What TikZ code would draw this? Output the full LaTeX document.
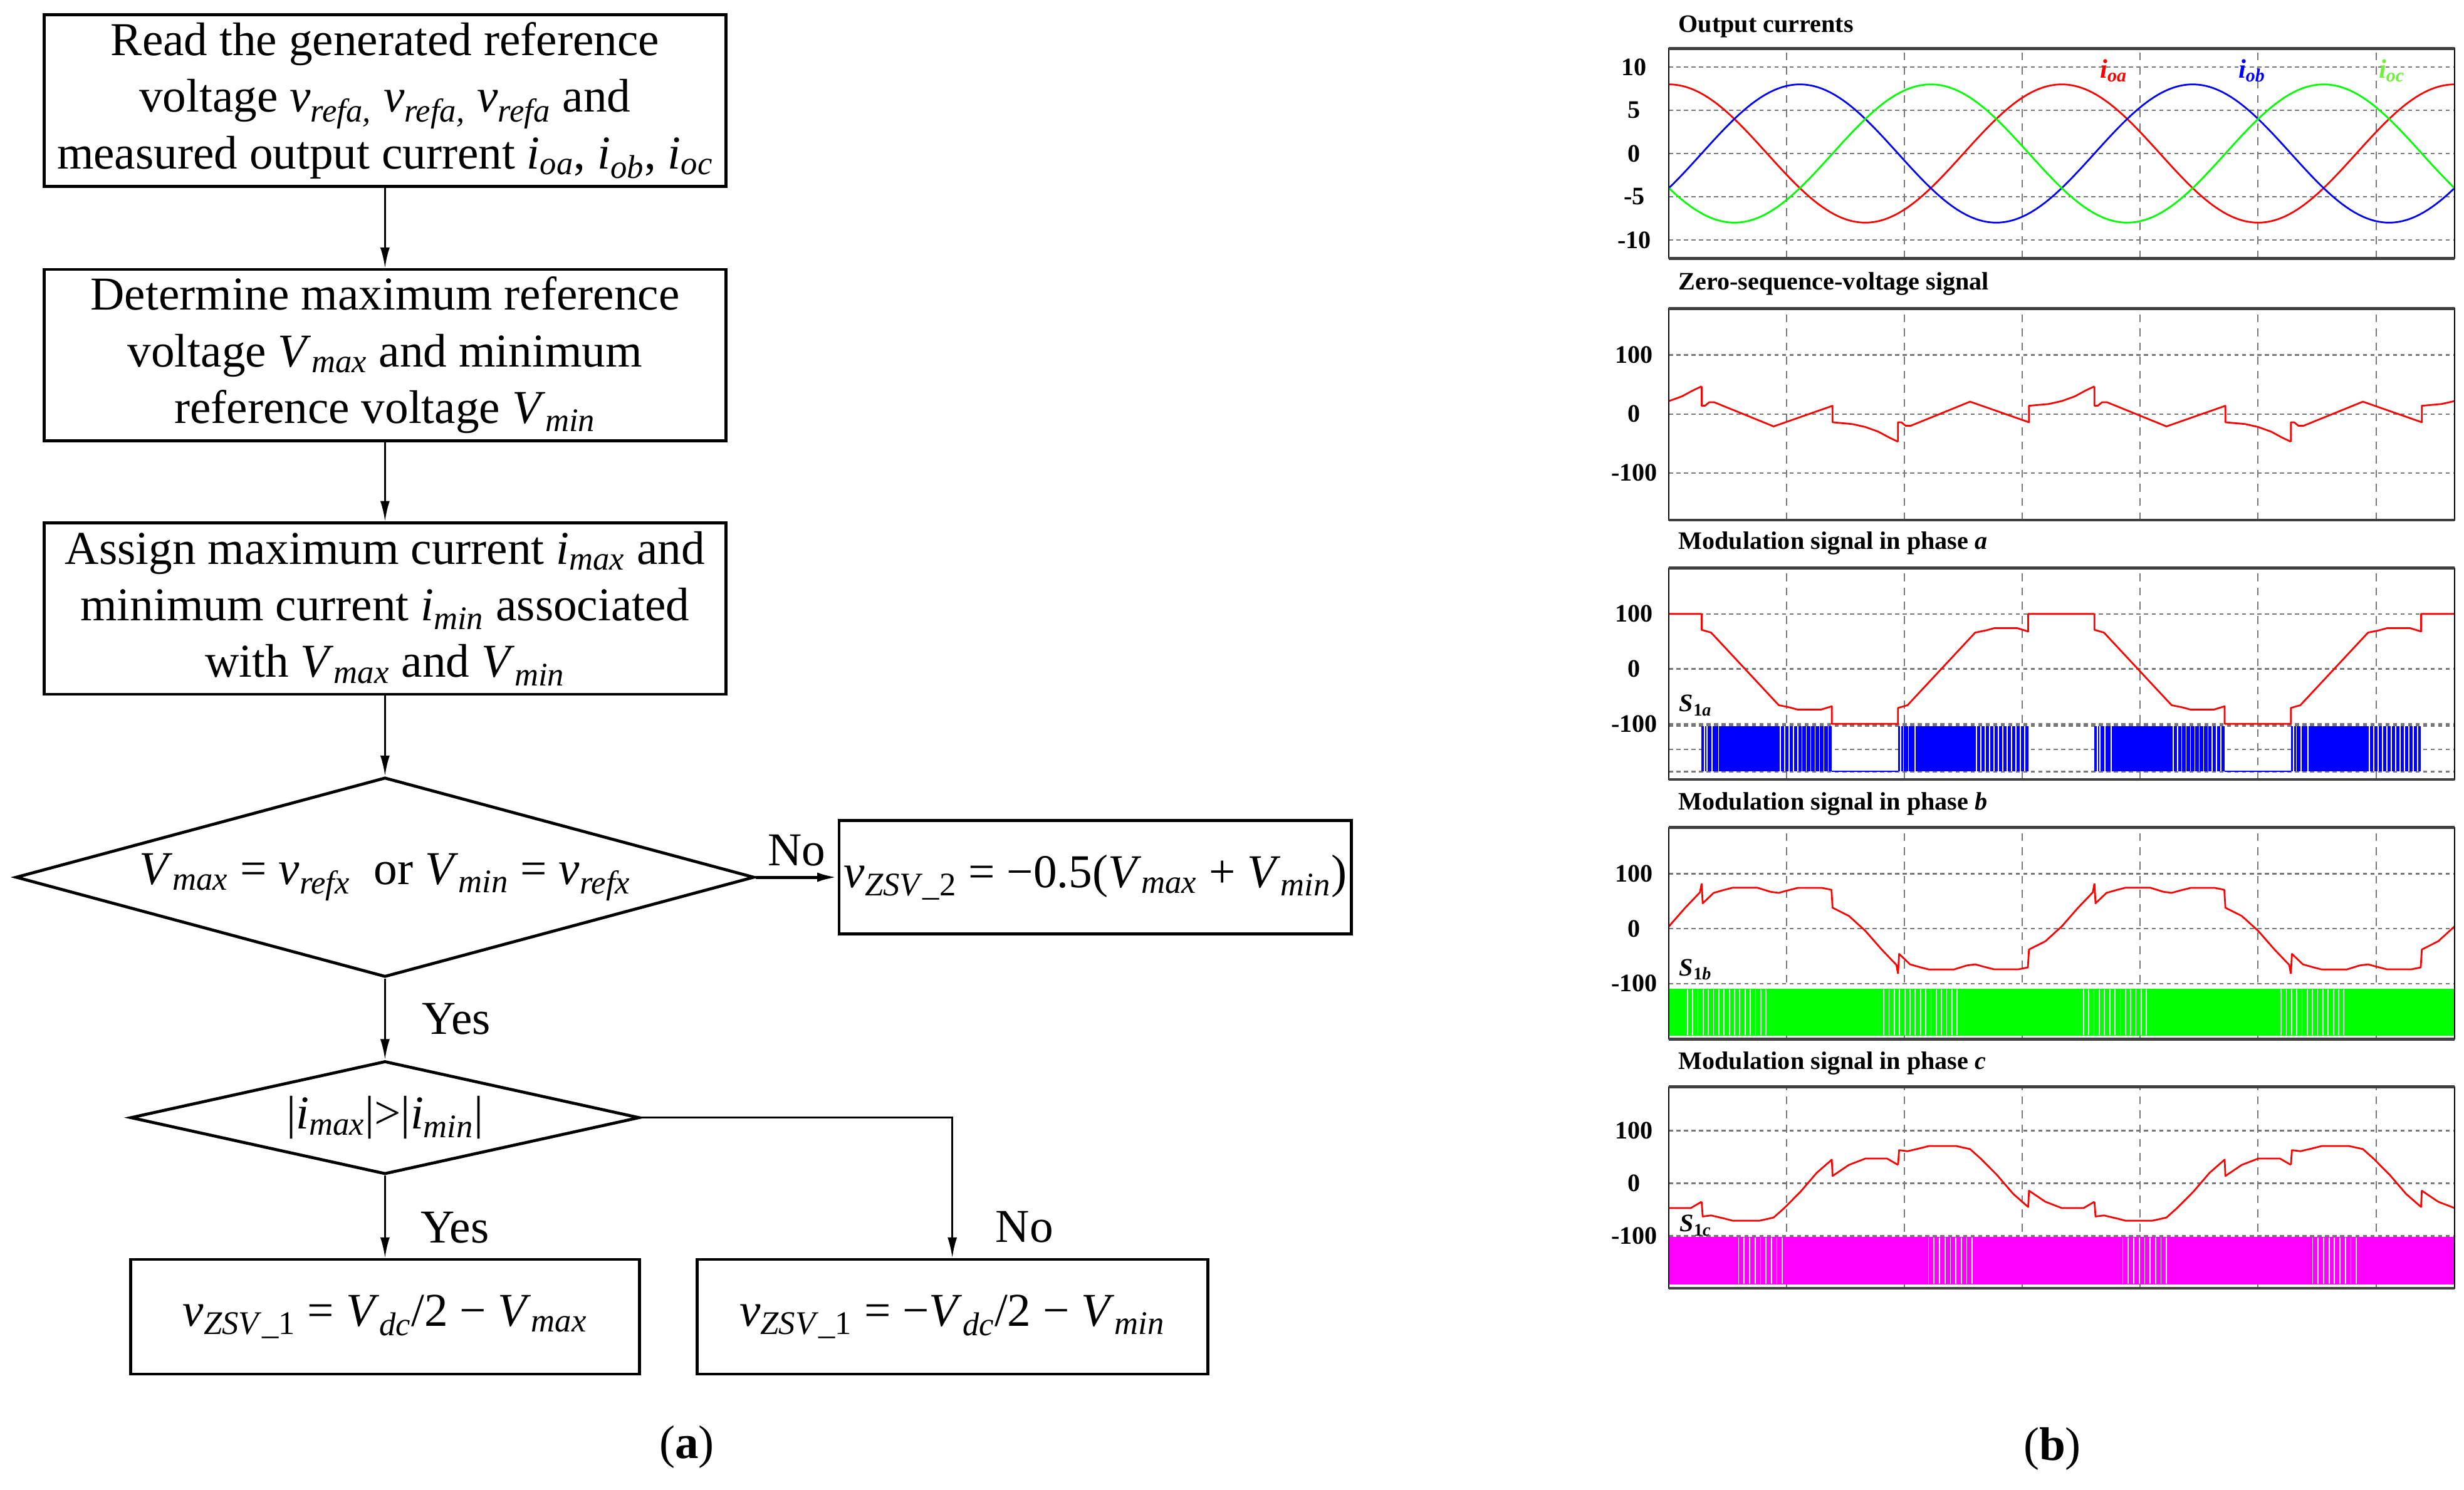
\documentclass[tikz,border=0pt]{standalone}
\usepackage{fontspec}
\setmainfont{Liberation Serif}
\usetikzlibrary{shapes.geometric, arrows.meta, positioning}

\definecolor{gridgray}{RGB}{120,120,120}
\definecolor{sigred}{RGB}{255,0,0}
\definecolor{sigblue}{RGB}{0,0,255}
\definecolor{siggreen}{RGB}{0,255,0}
\definecolor{labgreen}{RGB}{110,240,60}
\definecolor{sigmag}{RGB}{255,0,255}

\newcommand{\vs}[2]{\textit{#1}\textsubscript{\textit{#2}}}
\newcommand{\zsv}[1]{\textit{v}\textsubscript{\textit{ZSV}\_#1}}

% one half period (30..210 deg) of each signal, the next half is the mirror
\newcommand{\halfZ}{(30,47) -- (30,14) -- (33,14) -- (37,20) -- (41.5,20) -- (96,-21) -- (150,14) -- (150,-14) -- (168,-17) -- (180,-22) -- (192,-30) -- (202,-40) -- (210,-47)}
\newcommand{\halfA}{(30,100) -- (30,71) -- (38.7,66) -- (100.7,-66) -- (110.6,-70) -- (118,-74) -- (139.4,-74) -- (149.3,-68) -- (149.3,-100) -- (210,-100)}
\newcommand{\halfB}{(30,82) -- (31,46) -- (41,65) -- (51,70.6) -- (58.5,74.4) -- (81,74.4) -- (93,67) -- (100.7,65) -- (108,69) -- (118,74) -- (140.4,74) -- (149,70.6) -- (150,38) -- (165,23) -- (180,-4) -- (195,-38) -- (208.5,-66) -- (210,-82)}
\newcommand{\halfC}{(30,-35) -- (31,-63) -- (38.7,-61) -- (51,-67) -- (58.5,-71) -- (83,-71) -- (96,-65) -- (105.7,-47) -- (120.6,-16) -- (135.5,20) -- (149.3,45) -- (150,14) -- (165,35) -- (180,47) -- (200,47) -- (210,35)}

\tikzset{
  fc/.style={font=\fontsize{30}{36}\selectfont},
  procbox/.style={draw, line width=1.9pt, align=center, inner sep=0pt, fc},
  decide/.style={draw, diamond, line width=1.9pt, inner sep=0pt, fc},
  arr/.style={-{Latex[length=13pt,width=6pt]}, line width=1.2pt},
  lab/.style={fc, inner sep=0pt},
  frame/.style={line width=0.8pt},
  frameedge/.style={line width=1.8pt, black!75},
  vgrid/.style={gridgray, line width=0.8pt, dash pattern=on 5pt off 4pt},
  hgrid/.style={gridgray, line width=1pt, dash pattern=on 2.6pt off 2.2pt},
  tick/.style={font=\fontsize{16}{19}\selectfont\bfseries, inner sep=0pt},
  ptitle/.style={font=\fontsize{16}{19}\selectfont\bfseries, inner sep=0pt, anchor=base west},
  sig/.style={line width=1.1pt, line join=round},
  gap/.style={white, line width=0.7pt},
  swlab/.style={font=\fontsize{16}{19}\selectfont\bfseries, inner sep=0pt},
  curlab/.style={font=\fontsize{17}{20}\selectfont\bfseries\itshape, inner sep=0pt},
}

\begin{document}
\begin{tikzpicture}[x=1pt, y=-1pt, on grid]
\useasboundingbox (0,0) rectangle (1568,948);

% ---------------- (a) flowchart
\node (rd) [procbox, minimum width=434pt, minimum height=109pt] at (245,64)
  {Read the generated reference\\ voltage \vs{v}{refa,} \vs{v}{refa,} \vs{v}{refa} and\\ measured output current \vs{i}{oa}, \vs{i}{ob}, \vs{i}{oc}};
\node (dm) [procbox, minimum width=434pt, minimum height=109pt, below=162pt of rd]
  {Determine maximum reference\\ voltage \vs{V}{max} and minimum\\ reference voltage \vs{V}{min}};
\node (as) [procbox, minimum width=434pt, minimum height=109pt, below=161.3pt of dm]
  {Assign maximum current \vs{i}{max} and\\ minimum current \vs{i}{min} associated\\ with \vs{V}{max} and \vs{V}{min}};
\node (eq) [decide, aspect=3.7, minimum width=470pt, minimum height=127pt, below=171pt of as]
  {\vs{V}{max} = \vs{v}{refx}\ \ or \vs{V}{min} = \vs{v}{refx}};
\node (zs2) [procbox, minimum width=326pt, minimum height=72pt, right=452pt of eq]
  {\zsv{2} = −0.5(\vs{V}{max} + \vs{V}{min})};
\node (cmp) [decide, aspect=4.5, minimum width=324pt, minimum height=72pt, below=153pt of eq]
  {|\vs{i}{max}|>|\vs{i}{min}|};
\node (pos) [procbox, minimum width=324pt, minimum height=73pt, below=126.7pt of cmp]
  {\zsv{1} = \vs{V}{dc}/2 − \vs{V}{max}};
\node (neg) [procbox, minimum width=325pt, minimum height=73pt, right=361pt of pos]
  {\zsv{1} = −\vs{V}{dc}/2 − \vs{V}{min}};

\draw[arr] (rd) -- (dm);
\draw[arr] (dm) -- (as);
\draw[arr] (as) -- (eq);
\draw[arr, line width=2pt] (eq) -- node[lab, above=6pt] (no1) {No} (zs2);
\draw[arr] (eq) -- node[lab, right=23pt] (yes1) {Yes} (cmp);
\draw[arr] (cmp) -- node[lab, right=22pt, pos=0.63] (yes2) {Yes} (pos);
\draw[arr] (cmp) -| node[lab, right=27pt, pos=0.89] (no2) {No} (neg);

\node[fc] (capa) at (437,921) {(\textbf{a})};

% ---------------- (b) waveforms
% output currents
\begin{scope}[shift={(1062,97.7)}, x=0.6944pt, y=5.5pt]
  \draw[vgrid] \foreach \g in {108,216,...,648} {(\g,-12.13) -- (\g,12.16)};
  \draw[hgrid] \foreach \v in {-10,-5,...,10} {(0,\v) -- (720,\v)};
  \foreach \v [count=\i] in {-10,-5,0,5,10}
    \node[tick] (ta\i) at (-31.7,\v) {\v};
  \begin{scope}
    \clip (0,-12.13) rectangle (720,12.16);
    \draw[sig, sigred]   plot[domain=0:720, samples=181] (\x, {8*cos(\x)});
    \draw[sig, sigblue]  plot[domain=0:720, samples=181] (\x, {8*cos(\x-120)});
    \draw[sig, siggreen] plot[domain=0:720, samples=181] (\x, {8*cos(\x+120)});
  \end{scope}
  \draw[frame] (0,-12.13) rectangle (720,12.16);
  \draw[frameedge] (0,12.16) -- (720,12.16) (0,-12.13) -- (720,-12.13);
\end{scope}

% zero sequence voltage
\begin{scope}[shift={(1062,263.5)}, x=0.6944pt, y=0.375pt]
  \draw[vgrid] \foreach \g in {108,216,...,648} {(\g,-180) -- (\g,179.2)};
  \draw[hgrid] \foreach \v in {-100,0,100} {(0,\v) -- (720,\v)};
  \foreach \v [count=\i] in {-100,0,100}
    \node[tick] (tb\i) at (-31.7,\v) {\v};
  \begin{scope}
    \clip (0,-180) rectangle (720,179.2);
    \foreach \k/\s in {-1/-1,0/1,1/-1,2/1,3/-1}
      \draw[sig, sigred, shift={(\k*180,0)}, yscale=\s] \halfZ;
  \end{scope}
  \draw[frame] (0,-180) rectangle (720,179.2);
  \draw[frameedge] (0,179.2) -- (720,179.2) (0,-180) -- (720,-180);
\end{scope}

% phase a
\begin{scope}[shift={(1062,425.7)}, x=0.6944pt, y=0.35pt]
  \draw[vgrid] \foreach \g in {108,216,...,648} {(\g,-200.9) -- (\g,183.4)};
  \draw[hgrid] \foreach \v in {-186.6,-146.6,-103.7,-100,0,100} {(0,\v) -- (720,\v)};
  \foreach \v [count=\i] in {-100,0,100}
    \node[tick] (tc\i) at (-31.7,\v) {\v};
  \foreach \k in {0,...,3} {
    \fill[sigblue] ({30+180*\k},-103.7) rectangle ({149.3+180*\k},-186.6);
    \foreach \w in {2.5,5,9.5,15.5}
      \draw[gap] ({30+180*\k+\w},-104.5) -- ({30+180*\k+\w},-185.8);
    \foreach \w in {72,76,...,116}
      \draw[gap] ({30+180*\k+\w},-104.5) -- ({30+180*\k+\w},-185.8);
  }
  \foreach \k in {0,2}
    \draw[sigblue, line width=0.8pt] ({149.3+180*\k},-186.6) -- ({210+180*\k},-186.6);
  \begin{scope}
    \clip (0,-200.9) rectangle (720,183.4);
    \foreach \k/\s in {-1/-1,0/1,1/-1,2/1,3/-1}
      \draw[sig, sigred, shift={(\k*180,0)}, yscale=\s] \halfA;
  \end{scope}
  \draw[frame] (0,-200.9) rectangle (720,183.4);
  \draw[frameedge] (0,183.4) -- (720,183.4) (0,-200.9) -- (720,-200.9);
\end{scope}

% phase b
\begin{scope}[shift={(1062,591)}, x=0.6944pt, y=0.35pt]
  \draw[vgrid] \foreach \g in {108,216,...,648} {(\g,-200.9) -- (\g,184)};
  \draw[hgrid] \foreach \v in {-100,0,100} {(0,\v) -- (720,\v)};
  \foreach \v [count=\i] in {-100,0,100}
    \node[tick] (td\i) at (-31.7,\v) {\v};
  \fill[siggreen] (0,-108.9) rectangle (720,-194.9);
  \foreach \z/\n in {17/15, 197/14, 380/12, 561/12}
    \foreach \j in {0,...,\n}
      \draw[gap] ({\z+4.8*\j},-110) -- ({\z+4.8*\j},-193.5);
  \begin{scope}
    \clip (0,-200.9) rectangle (720,184);
    \foreach \k/\s in {-1/-1,0/1,1/-1,2/1,3/-1}
      \draw[sig, sigred, shift={(\k*180,0)}, yscale=\s] \halfB;
  \end{scope}
  \draw[frame] (0,-200.9) rectangle (720,184);
  \draw[frameedge] (0,184) -- (720,184) (0,-200.9) -- (720,-200.9);
\end{scope}

% phase c
\begin{scope}[shift={(1062,753.1)}, x=0.6944pt, y=0.335pt]
  \draw[vgrid] \foreach \g in {108,216,...,648} {(\g,-199.1) -- (\g,183.3)};
  \draw[hgrid] \foreach \v in {-100,0,100} {(0,\v) -- (720,\v)};
  \foreach \v [count=\i] in {-100,0,100}
    \node[tick] (te\i) at (-31.7,\v) {\v};
  \fill[sigmag] (0,-102.1) rectangle (720,-191.9);
  \foreach \z in {64,238,416,590}
    \foreach \j in {0,...,8}
      \draw[gap] ({\z+5*\j},-103) -- ({\z+5*\j},-190.5);
  \begin{scope}
    \clip (0,-199.1) rectangle (720,183.3);
    \foreach \k/\s in {-1/-1,0/1,1/-1,2/1,3/-1}
      \draw[sig, sigred, shift={(\k*180,0)}, yscale=\s] \halfC;
  \end{scope}
  \draw[frame] (0,-199.1) rectangle (720,183.3);
  \draw[frameedge] (0,183.3) -- (720,183.3) (0,-199.1) -- (720,-199.1);
\end{scope}

% titles and labels
\node[ptitle] (ttl1) at (1068,20.6) {Output currents};
\node[ptitle] (ttl2) at (1068,184.6) {Zero-sequence-voltage signal};
\node[ptitle] (ttl3) at (1068,349.5) {Modulation signal in phase \textit{a}};
\node[ptitle] (ttl4) at (1068,515.6) {Modulation signal in phase \textit{b}};
\node[ptitle] (ttl5) at (1068,680.5) {Modulation signal in phase \textit{c}};

\node[curlab, text=sigred]   (ioa) at (1345,45) {i\textsubscript{oa}};
\node[curlab, text=sigblue]  (iob) at (1433,45) {i\textsubscript{ob}};
\node[curlab, text=labgreen] (ioc) at (1522,45) {i\textsubscript{oc}};

\node[swlab] (s1a) at (1079,449) {\textit{S}\textsubscript{1\textit{a}}};
\node[swlab] (s1b) at (1079,617) {\textit{S}\textsubscript{1\textit{b}}};
\node[swlab] (s1c) at (1079,780) {\textit{S}\textsubscript{1\textit{c}}};

\node[fc] (capb) at (1306,922) {(\textbf{b})};

\end{tikzpicture}
\end{document}
